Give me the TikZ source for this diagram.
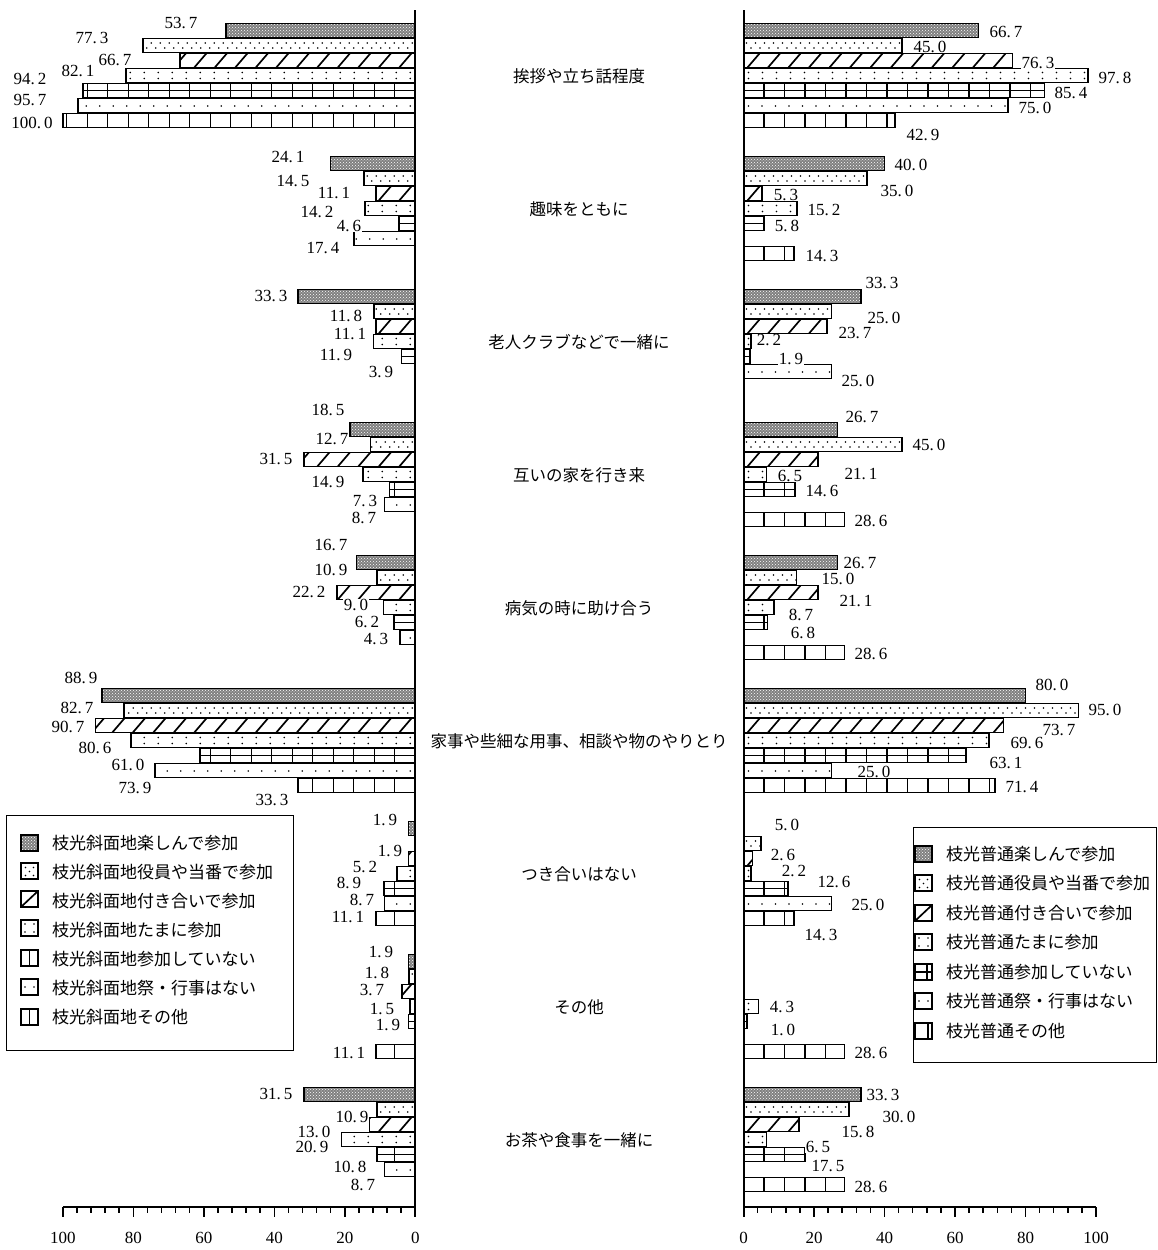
\documentclass[tikz,border=0pt]{standalone}
\usepackage{fontspec}
\setmainfont{Liberation Serif}
\newfontfamily\cjk{Noto Sans CJK JP}
\usetikzlibrary{patterns}

\def\splitnum#1.#2\relax{#1.\kern3pt#2}

\tikzset{
 barframe/.style={draw=black, line width=1.6pt},
 patline/.style={line width=1.3pt},
 diagline/.style={line width=1.7pt},
 vl/.style={font=\fontsize{17}{17}\selectfont, fill=white, inner sep=0.6pt},
 catlabel/.style={font=\cjk\fontsize{16.5}{18}\selectfont},
 legtext/.style={font=\cjk\fontsize{17}{18}\selectfont, anchor=west, inner sep=0pt},
 axisline/.style={line width=2pt},
 tickline/.style={line width=1.5pt},
 ticklab/.style={font=\fontsize{17}{17}\selectfont},
 legbox/.style={draw=black, line width=0.8pt},
 greyfill/.style={fill=black!50},
 greydots/.style={pattern=crosshatch dots, pattern color=white},
}

% #1 x0, #2 dir, #3 ytop, #4 type, #5 length
\newcommand\barshape[5]{%
 \pgfmathsetmacro\xe{#1+(#2)*(#5)}%
 \pgfmathsetmacro\yb{#3+14}%
 \pgfmathtruncatemacro\nn{#5/9+1}%
 \pgfmathtruncatemacro\nd{#5/13.5+1}%
 \pgfmathtruncatemacro\nv{#5/20.5+1}%
 \begin{scope}
  \clip (#1,#3) rectangle (\xe,\yb);
  \ifcase#4\or
   \fill[greyfill] (#1,#3) rectangle (\xe,\yb);
   \fill[greydots] (#1,#3) rectangle (\xe,\yb);
  \or
   \foreach \n in {0,...,\nn}{%
     \pgfmathsetmacro\xa{#1+(#2)*(\n*9+3)}%
     \pgfmathsetmacro\xb{#1+(#2)*(\n*9+7.5)}%
     \fill (\xa,#3+4.5) circle[radius=0.85pt];
     \fill (\xb,#3+9.5) circle[radius=0.85pt];}
  \or
   \foreach \n in {0,...,\nv}{%
     \pgfmathsetmacro\xa{#1+(#2)*(\n*20.5+10)}%
     \draw[diagline] (\xa-6,\yb) -- (\xa+6,#3);}
  \or
   \foreach \n in {0,...,\nd}{%
     \pgfmathsetmacro\xa{#1+(#2)*(\n*14+5)}%
     \fill (\xa,#3+4) circle[radius=0.85pt];
     \fill (\xa,#3+10) circle[radius=0.85pt];}
  \or
   \draw[patline] (#1,#3+7) -- (\xe,#3+7);
   \foreach \n in {1,...,\nv}{%
     \pgfmathsetmacro\xa{#1+(#2)*(\n*20.5)}%
     \draw[patline] (\xa,#3) -- (\xa,\yb);}
  \or
   \foreach \n in {0,...,\nd}{%
     \pgfmathsetmacro\xa{#1+(#2)*(\n*13.5+5)}%
     \fill (\xa,#3+7.5) circle[radius=0.85pt];}
  \or
   \foreach \n in {1,...,\nv}{%
     \pgfmathsetmacro\xa{#1+(#2)*(\n*20.5)}%
     \draw[patline] (\xa,#3) -- (\xa,\yb);}
  \fi
 \end{scope}
 \draw[barframe] (#1,#3) rectangle (\xe,\yb);
}

% #1 side L/R, #2 group, #3 bar index, #4 value
\newcommand\gbar[4]{%
 \pgfmathsetmacro\yt{23.5+133*#2+15*(#3-1)}%
 \pgfmathsetmacro\len{#4*3.525}%
 \ifx L#1\barshape{415.3}{-1}{\yt}{#3}{\len}\else\barshape{743.5}{1}{\yt}{#3}{\len}\fi
}

\newcommand\swatch[3]{%
 \begin{scope}[shift={(#1,#2)}]
  #3
  \draw[barframe] (0,-8) rectangle (17,8);
 \end{scope}}

\begin{document}
\begin{tikzpicture}[x=1pt,y=-1pt]
\useasboundingbox (0,0) rectangle (1158,1250);

% ---------- bars, left (枝光斜面地)
\foreach \k/\v in {1/53.7,2/77.3,3/66.7,4/82.1,5/94.2,6/95.7,7/100}{\gbar{L}{0}{\k}{\v}}
\foreach \k/\v in {1/24.1,2/14.5,3/11.1,4/14.2,5/4.6,6/17.4}{\gbar{L}{1}{\k}{\v}}
\foreach \k/\v in {1/33.3,2/11.8,3/11.1,4/11.9,5/3.9}{\gbar{L}{2}{\k}{\v}}
\foreach \k/\v in {1/18.5,2/12.7,3/31.5,4/14.9,5/7.3,6/8.7}{\gbar{L}{3}{\k}{\v}}
\foreach \k/\v in {1/16.7,2/10.9,3/22.2,4/9.0,5/6.2,6/4.3}{\gbar{L}{4}{\k}{\v}}
\foreach \k/\v in {1/88.9,2/82.7,3/90.7,4/80.6,5/61.0,6/73.9,7/33.3}{\gbar{L}{5}{\k}{\v}}
\foreach \k/\v in {1/1.9,3/1.9,4/5.2,5/8.9,6/8.7,7/11.1}{\gbar{L}{6}{\k}{\v}}
\foreach \k/\v in {1/1.9,2/1.8,3/3.7,4/1.5,5/1.9,7/11.1}{\gbar{L}{7}{\k}{\v}}
\foreach \k/\v in {1/31.5,2/10.9,3/13.0,4/20.9,5/10.8,6/8.7}{\gbar{L}{8}{\k}{\v}}

% ---------- bars, right (枝光普通)
\foreach \k/\v in {1/66.7,2/45.0,3/76.3,4/97.8,5/85.4,6/75.0,7/42.9}{\gbar{R}{0}{\k}{\v}}
\foreach \k/\v in {1/40.0,2/35.0,3/5.3,4/15.2,5/5.8,7/14.3}{\gbar{R}{1}{\k}{\v}}
\foreach \k/\v in {1/33.3,2/25.0,3/23.7,4/2.2,5/1.9,6/25.0}{\gbar{R}{2}{\k}{\v}}
\foreach \k/\v in {1/26.7,2/45.0,3/21.1,4/6.5,5/14.6,7/28.6}{\gbar{R}{3}{\k}{\v}}
\foreach \k/\v in {1/26.7,2/15.0,3/21.1,4/8.7,5/6.8,7/28.6}{\gbar{R}{4}{\k}{\v}}
\foreach \k/\v in {1/80.0,2/95.0,3/73.7,4/69.6,5/63.1,6/25.0,7/71.4}{\gbar{R}{5}{\k}{\v}}
\foreach \k/\v in {2/5.0,3/2.6,4/2.2,5/12.6,6/25.0,7/14.3}{\gbar{R}{6}{\k}{\v}}
\foreach \k/\v in {4/4.3,5/1.0,7/28.6}{\gbar{R}{7}{\k}{\v}}
\foreach \k/\v in {1/33.3,2/30.0,3/15.8,4/6.5,5/17.5,7/28.6}{\gbar{R}{8}{\k}{\v}}

% ---------- axes
\draw[axisline] (415.3,10) -- (415.3,1217);
\draw[axisline] (743.5,10) -- (743.5,1217);
\draw[axisline] (62.8,1207) -- (415.3,1207);
\draw[axisline] (743.5,1207) -- (1096,1207);
\foreach \i in {0,...,25}{
  \pgfmathsetmacro\tl{mod(\i,5)==0 ? 1217 : 1213}
  \draw[tickline] ({415.3-\i*4*3.525},1207) -- ({415.3-\i*4*3.525},\tl);
  \draw[tickline] ({743.5+\i*4*3.525},1207) -- ({743.5+\i*4*3.525},\tl);
}
\foreach \v in {0,20,...,100}{
  \node[ticklab] (tl\v) at ({415.3-\v*3.525},1238) {\v};
  \node[ticklab] (tr\v) at ({743.5+\v*3.525},1238) {\v};
}

% ---------- category labels
\foreach \t [count=\i from 0] in {挨拶や立ち話程度,趣味をともに,老人クラブなどで一緒に,互いの家を行き来,病気の時に助け合う,家事や些細な用事、相談や物のやりとり,つき合いはない,その他,お茶や食事を一緒に}{
  \node[catlabel] (cat\i) at (579,{76.5+133*\i}) {\t};
}

% ---------- value labels, left
\foreach \x/\y/\t [count=\i] in {
 181/23/53.7, 92/38/77.3, 115/60/66.7, 78/71/82.1, 30/79/94.2, 30/100/95.7, 32/123/100.0,
 288/157/24.1, 293/181/14.5, 334/193/11.1, 317/212/14.2, 349/226/4.6, 323/248/17.4,
 271/296/33.3, 346/316/11.8, 350/334/11.1, 336/355/11.9, 381/372/3.9,
 328/410/18.5, 332/439/12.7, 276/459/31.5, 328/482/14.9, 365/501/7.3, 364/518/8.7,
 331/545/16.7, 331/570/10.9, 309/592/22.2, 356/605/9.0, 367/622/6.2, 376/639/4.3,
 81/678/88.9, 77/708/82.7, 68/727/90.7, 95/748/80.6, 128/765/61.0, 135/788/73.9, 272/800/33.3,
 385/820/1.9, 390/851/1.9, 365/867/5.2, 349/883/8.9, 362/900/8.7, 348/917/11.1,
 381/952/1.9, 377/973/1.8, 372/990/3.7, 382/1009/1.5, 388/1025/1.9, 349/1053/11.1,
 276/1094/31.5, 352/1117/10.9, 314/1132/13.0, 312/1147/20.9, 350/1167/10.8, 363/1185/8.7}{
  \node[vl] (vL\i) at (\x,\y) {\expandafter\splitnum\t\relax};
}

% ---------- value labels, right
\foreach \x/\y/\t [count=\i] in {
 1006/32/66.7, 930/47/45.0, 1038/63/76.3, 1115/78/97.8, 1071/93/85.4, 1035/108/75.0, 923/135/42.9,
 911/165/40.0, 897/191/35.0, 786/195/5.3, 824/210/15.2, 787/226/5.8, 822/256/14.3,
 882/283/33.3, 884/318/25.0, 855/333/23.7, 769/340/2.2, 791/359/1.9, 858/381/25.0,
 862/417/26.7, 929/445/45.0, 861/474/21.1, 790/476/6.5, 822/491/14.6, 871/521/28.6,
 860/563/26.7, 838/579/15.0, 856/601/21.1, 801/615/8.7, 803/633/6.8, 871/654/28.6,
 1052/685/80.0, 1105/710/95.0, 1059/730/73.7, 1027/743/69.6, 1006/763/63.1, 874/772/25.0, 1022/787/71.4,
 787/825/5.0, 783/855/2.6, 794/871/2.2, 834/882/12.6, 868/905/25.0, 821/935/14.3,
 782/1007/4.3, 783/1030/1.0, 871/1053/28.6,
 883/1095/33.3, 899/1117/30.0, 858/1132/15.8, 818/1147/6.5, 828/1166/17.5, 871/1187/28.6}{
  \node[vl] (vR\i) at (\x,\y) {\expandafter\splitnum\t\relax};
}

% ---------- legend, left
\draw[legbox] (6,815) rectangle (293,1050);
\swatch{21}{843}{\fill[greyfill] (0,-8) rectangle (17,8); \fill[greydots] (0,-8) rectangle (17,8);}
\swatch{21}{871}{\foreach \p in {(4.5,-3.5),(12.5,-3.5),(8.5,0.5),(4.5,4.5),(12.5,4.5)} \fill \p circle[radius=0.85pt];}
\swatch{21}{899}{\draw[diagline] (0,8) -- (17,-8);}
\swatch{21}{928}{\foreach \p in {(4,-4),(13,-4),(4,4),(13,4)} \fill \p circle[radius=0.85pt];}
\swatch{21}{958}{\draw[barframe] (8.5,-8) -- (8.5,8);}
\swatch{21}{987}{\foreach \p in {(4,0),(13,0)} \fill \p circle[radius=0.85pt];}
\swatch{21}{1017}{\draw[barframe] (8.5,-8) -- (8.5,8);}
\foreach \t [count=\i] in {枝光斜面地楽しんで参加,枝光斜面地役員や当番で参加,枝光斜面地付き合いで参加,枝光斜面地たまに参加,枝光斜面地参加していない,枝光斜面地祭・行事はない,枝光斜面地その他}{
  \node[legtext] (legL\i) at (52,{843+29*(\i-1)}) {\t};
}

% ---------- legend, right
\draw[legbox] (913,827) rectangle (1156,1062);
\swatch{915}{854}{\fill[greyfill] (0,-8) rectangle (17,8); \fill[greydots] (0,-8) rectangle (17,8);}
\swatch{915}{883}{\foreach \p in {(4.5,-3.5),(12.5,-3.5),(8.5,0.5),(4.5,4.5),(12.5,4.5)} \fill \p circle[radius=0.85pt];}
\swatch{915}{913}{\draw[diagline] (0,8) -- (17,-8);}
\swatch{915}{942}{\foreach \p in {(4,-4),(13,-4),(4,4),(13,4)} \fill \p circle[radius=0.85pt];}
\swatch{915}{972}{\draw[patline] (0,0) -- (17,0); \draw[barframe] (12,-8) -- (12,8);}
\swatch{915}{1001}{\foreach \p in {(4,0),(13,0)} \fill \p circle[radius=0.85pt];}
\swatch{915}{1031}{\draw[barframe] (13,-8) -- (13,8);}
\foreach \t [count=\i] in {枝光普通楽しんで参加,枝光普通役員や当番で参加,枝光普通付き合いで参加,枝光普通たまに参加,枝光普通参加していない,枝光普通祭・行事はない,枝光普通その他}{
  \node[legtext] (legR\i) at (946,{854+29.5*(\i-1)}) {\t};
}
\end{tikzpicture}
\end{document}
